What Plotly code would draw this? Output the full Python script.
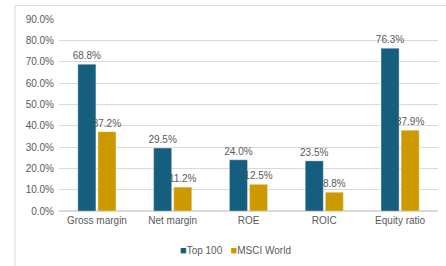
import plotly.graph_objects as go

categories = ["Gross margin", "Net margin", "ROE", "ROIC", "Equity ratio"]
top100 = [0.688, 0.295, 0.240, 0.235, 0.763]
msci = [0.372, 0.112, 0.125, 0.088, 0.379]
series_names = ["Top 100", "MSCI World"]
series_colors = ["#165E7E", "#CC9A00"]

font_color = "#595959"
fnt = "Liberation Sans, Arial, sans-serif"

fig = go.Figure()
for name, vals, col in zip(series_names, [top100, msci], series_colors):
    fig.add_trace(go.Bar(name=name, x=categories, y=vals, marker_color=col,
                         marker_line=dict(width=1, color="rgba(255,255,255,0.35)"),
                         text=[f"{v*100:.1f}%" for v in vals], textposition="outside",
                         constraintext="none",
                         textfont=dict(size=10, color=font_color), cliponaxis=False))

legend_text = "&nbsp;&nbsp;&nbsp;".join(
    f"<span style='color:{c}; font-size:11px'>■</span>{n}" for n, c in zip(series_names, series_colors)
)

fig.update_layout(
    width=446, height=266,
    margin=dict(l=59, r=8, t=19, b=55, autoexpand=False),
    paper_bgcolor="white", plot_bgcolor="white",
    barmode="group", bargap=0.47, bargroupgap=0.1,
    font=dict(family=fnt, size=10, color=font_color),
    showlegend=False,
    annotations=[dict(text=legend_text, xref="paper", yref="paper",
                      x=(235 - 59) / 379, y=(211 - 250) / 192, xanchor="center", yanchor="middle",
                      showarrow=False, font=dict(size=10, color=font_color))],
)
fig.update_yaxes(range=[0, 0.9], dtick=0.1, tickformat=".1%", showgrid=True,
                 gridcolor="#D9D9D9", gridwidth=1, zeroline=True, zerolinecolor="#D9D9D9",
                 ticks="", tickfont=dict(size=10, color=font_color), showline=False,
                 automargin=False, ticklabelstandoff=4)
fig.update_xaxes(showline=True, linecolor="#D9D9D9", ticks="",
                 tickfont=dict(size=10, color=font_color), automargin=False)
fig.add_shape(type="rect", xref="paper", yref="paper",
              x0=-44/379, x1=1.1, y0=-1, y1=(211-5.5)/192,
              line=dict(color="#D9D9D9", width=1), fillcolor="rgba(0,0,0,0)", layer="below")

fig.write_html("out.html", config={"displayModeBar": False},
               post_script="document.body.style.margin='0';")
